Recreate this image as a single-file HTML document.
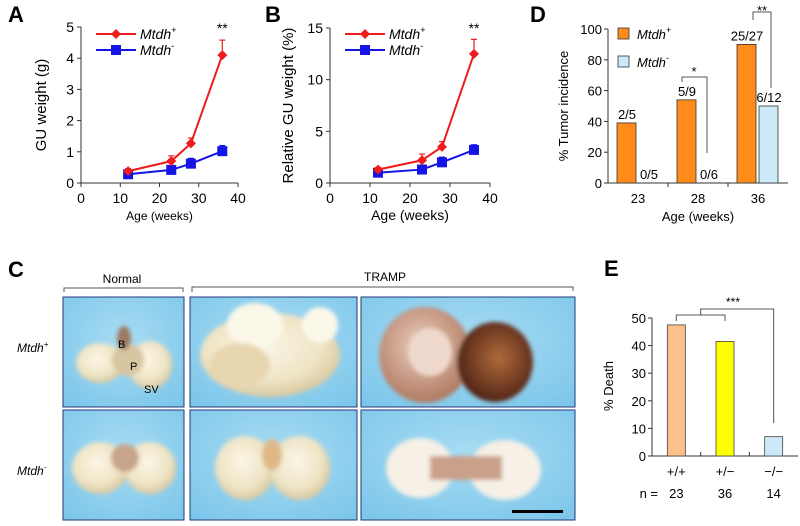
<!DOCTYPE html>
<html><head><meta charset="utf-8"><style>
body{margin:0;background:#fff;}
svg{display:block;font-family:"Liberation Sans",sans-serif;}
</style></head><body>
<svg id="fig" width="800" height="526" viewBox="0 0 800 526" xmlns="http://www.w3.org/2000/svg">
<defs>
<radialGradient id="bgblue" cx="50%" cy="40%" r="75%"><stop offset="0" stop-color="#a8dcf3"/><stop offset="1" stop-color="#7cc6ea"/></radialGradient>
<radialGradient id="cream" cx="45%" cy="40%" r="60%"><stop offset="0" stop-color="#fbf6e6"/><stop offset="0.7" stop-color="#eee3c4"/><stop offset="1" stop-color="#d9c9a0"/></radialGradient>
<radialGradient id="pink" cx="45%" cy="40%" r="60%"><stop offset="0" stop-color="#eccdbd"/><stop offset="1" stop-color="#b07a62"/></radialGradient>
<radialGradient id="dark" cx="55%" cy="45%" r="60%"><stop offset="0" stop-color="#b06a3a"/><stop offset="1" stop-color="#4a1f14"/></radialGradient>
<filter id="soft"><feGaussianBlur stdDeviation="2"/></filter>
</defs>
<g id="panelA"></g>
<g id="panelB"></g>
<g id="panelD"></g>
<g id="panelE"></g>
<g id="panelC">
 <text x="8" y="277" font-size="22" font-weight="bold">C</text>
 <text x="122" y="283" font-size="12" text-anchor="middle">Normal</text>
 <path d="M64 292 V288 H183 V292" fill="none" stroke="#555"/>
 <text x="385" y="281" font-size="12" text-anchor="middle">TRAMP</text>
 <path d="M192 292 V287 H573 V291" fill="none" stroke="#555"/>
 <text x="17" y="352" font-size="12" font-style="italic">Mtdh<tspan font-size="8" dy="-5">+</tspan></text>
 <text x="17" y="475" font-size="12" font-style="italic">Mtdh<tspan font-size="8" dy="-5">-</tspan></text>
 <g>
  <rect x="63" y="297" width="121" height="110" fill="url(#bgblue)" stroke="#223a7a"/>
  <g filter="url(#soft)"><ellipse cx="100" cy="363" rx="24" ry="20" fill="url(#cream)"/><ellipse cx="150" cy="365" rx="22" ry="24" fill="url(#cream)"/><ellipse cx="128" cy="360" rx="16" ry="16" fill="#d8c6a0"/><ellipse cx="124" cy="338" rx="7" ry="12" fill="#9b7a62"/></g>
  <text x="118" y="348" font-size="11">B</text>
  <text x="130" y="370" font-size="11">P</text>
  <text x="144" y="393" font-size="11">SV</text>
 </g>
 <g>
  <rect x="190" y="297" width="167" height="110" fill="url(#bgblue)" stroke="#223a7a"/>
  <g filter="url(#soft)"><ellipse cx="270" cy="355" rx="70" ry="42" fill="url(#cream)"/><ellipse cx="255" cy="325" rx="28" ry="22" fill="#fbf8ea"/><ellipse cx="320" cy="325" rx="18" ry="18" fill="#fbf8ea"/><ellipse cx="240" cy="365" rx="30" ry="22" fill="#e8d6b0"/></g>
 </g>
 <g>
  <rect x="361" y="297" width="214" height="110" fill="url(#bgblue)" stroke="#223a7a"/>
  <g filter="url(#soft)"><ellipse cx="425" cy="355" rx="46" ry="48" fill="url(#pink)"/><ellipse cx="430" cy="352" rx="22" ry="24" fill="#eed8cc"/><ellipse cx="495" cy="362" rx="38" ry="40" fill="url(#dark)"/></g>
 </g>
 <g>
  <rect x="63" y="410" width="121" height="110" fill="url(#bgblue)" stroke="#223a7a"/>
  <g filter="url(#soft)"><ellipse cx="100" cy="468" rx="28" ry="26" fill="url(#cream)"/><ellipse cx="150" cy="468" rx="26" ry="26" fill="url(#cream)"/><ellipse cx="125" cy="458" rx="14" ry="14" fill="#c6a58a"/></g>
 </g>
 <g>
  <rect x="190" y="410" width="167" height="110" fill="url(#bgblue)" stroke="#223a7a"/>
  <g filter="url(#soft)"><ellipse cx="245" cy="468" rx="30" ry="32" fill="url(#cream)"/><ellipse cx="300" cy="468" rx="30" ry="32" fill="url(#cream)"/><ellipse cx="272" cy="455" rx="10" ry="16" fill="#e0b888"/></g>
 </g>
 <g>
  <rect x="361" y="410" width="214" height="110" fill="url(#bgblue)" stroke="#223a7a"/>
  <g filter="url(#soft)"><ellipse cx="420" cy="468" rx="34" ry="30" fill="#f6f0e6"/><ellipse cx="505" cy="470" rx="36" ry="30" fill="#f6f0e6"/><rect x="430" y="456" width="72" height="24" fill="#c9a08a"/></g>
  <rect x="512" y="510" width="51" height="3" fill="#000"/>
 </g>
</g>
</svg>
<script>
const NS="http://www.w3.org/2000/svg";
// ---- data ----
const weeksA=[12,23,28,36];
const gPlusA=[0.38,0.7,1.27,4.1];
const gPlusErrA=[0.08,0.17,0.17,0.48];
const gMinusA=[0.28,0.42,0.62,1.02];
const gMinusErrA=[0.05,0.06,0.17,0.18];
const ticksAy=[0,1,2,3,4,5];
const ticksAx=[0,10,20,30,40];
const weeksB=[12,23,28,36];
const rPlusB=[1.3,2.2,3.5,12.5];
const rPlusErrB=[0.2,0.6,0.5,1.4];
const rMinusB=[1.0,1.3,2.0,3.2];
const rMinusErrB=[0.2,0.2,0.5,0.5];
const ticksBy=[0,5,10,15];
const ticksBx=[0,10,20,30,40];
const ageD=["23","28","36"];
const incPlusD=[39,54,90];
const incMinusD=[0,0,50];
const fracPlusD=["2/5","5/9","25/27"];
const fracMinusD=["0/5","0/6","6/12"];
const ticksDy=[0,20,40,60,80,100];
const genoE=["+/+","+/\u2212","\u2212/\u2212"];
const deathE=[47.5,41.5,7];
const nE=["23","36","14"];
const colorsE=["#fcc08a","#ffff00","#cce9f7"];
const ticksEy=[0,10,20,30,40,50];

function el(parent,tag,attrs,text){const e=document.createElementNS(NS,tag);for(const k in attrs)e.setAttribute(k,attrs[k]);if(text!==undefined)e.textContent=text;parent.appendChild(e);return e;}

function lineChart(g,cfg){
 const sx=v=>cfg.x0+(v-cfg.xmin)/(cfg.xmax-cfg.xmin)*(cfg.x1-cfg.x0);
 const sy=v=>cfg.y0-(v-cfg.ymin)/(cfg.ymax-cfg.ymin)*(cfg.y0-cfg.y1);
 let t=el(g,'text',{x:cfg.labx,y:22,'font-size':22,'font-weight':'bold'},cfg.label);
 
 let a=el(g,'path',{d:`M${cfg.x0} ${cfg.y1} V${cfg.y0} H${cfg.x1}`,fill:'none',stroke:'#333','stroke-width':1});
 
 cfg.yt.forEach(v=>{el(g,'line',{x1:cfg.x0-4,x2:cfg.x0,y1:sy(v),y2:sy(v),stroke:'#333'});
  const l=el(g,'text',{x:cfg.x0-7,y:sy(v)+5,'font-size':14,'text-anchor':'end'},v);
  });
 cfg.xt.forEach(v=>{el(g,'line',{x1:sx(v),x2:sx(v),y1:cfg.y0,y2:cfg.y0+4,stroke:'#333'});
  const l=el(g,'text',{x:sx(v),y:cfg.y0+20,'font-size':14,'text-anchor':'middle'},v);
  });
 const xt=el(g,'text',{x:(cfg.x0+cfg.x1)/2,y:cfg.y0+37,'font-size':cfg.xtfs,'text-anchor':'middle'},'Age (weeks)');
 
 const yc=(cfg.y0+cfg.y1)/2;
 const yt=el(g,'text',{x:cfg.ytx,y:yc,'font-size':15,'text-anchor':'middle',transform:`rotate(-90 ${cfg.ytx} ${yc})`},cfg.ytitle);
 
 const series=[[cfg.minus,cfg.minusErr,'#1414e6','sq','series-mtdh-minus'],[cfg.plus,cfg.plusErr,'#ee1c1c','di','series-mtdh-plus']];
 series.forEach(([vals,errs,col,shape,name])=>{
  const sg=el(g,'g',{});
  vals.forEach((v,i)=>{const x=sx(cfg.xs[i]);el(sg,'line',{x1:x,x2:x,y1:sy(v),y2:sy(v+errs[i]),stroke:col,'stroke-width':1.2});el(sg,'line',{x1:x-3,x2:x+3,y1:sy(v+errs[i]),y2:sy(v+errs[i]),stroke:col,'stroke-width':1.2});});
  el(sg,'polyline',{points:vals.map((v,i)=>sx(cfg.xs[i])+','+sy(v)).join(' '),fill:'none',stroke:col,'stroke-width':2});
  vals.forEach((v,i)=>{const x=sx(cfg.xs[i]),y=sy(v);let m;
   if(shape==='sq')m=el(sg,'rect',{x:x-5,y:y-5,width:10,height:10,fill:col});
   else m=el(sg,'path',{d:`M${x} ${y-5} L${x+5} ${y} L${x} ${y+5} L${x-5} ${y}Z`,fill:col});
   });
 });
 const lx=cfg.x0+15;
 [['#ee1c1c','di','+',34],['#1414e6','sq','-',50]].forEach(([col,shape,sup,y])=>{
  const lg=el(g,'g',{});
  el(lg,'line',{x1:lx,x2:lx+40,y1:y,y2:y,stroke:col,'stroke-width':2});
  if(shape==='sq')el(lg,'rect',{x:lx+15,y:y-5,width:10,height:10,fill:col});else el(lg,'path',{d:`M${lx+20} ${y-5}L${lx+25} ${y}L${lx+20} ${y+5}L${lx+15} ${y}Z`,fill:col});
  const tx=el(lg,'text',{x:lx+44,y:y+5,'font-size':14,'font-style':'italic'},'Mtdh');el(tx,'tspan',{'font-size':9,dy:-6},sup);
 });
 const st=el(g,'text',{x:sx(cfg.xs[3]),y:33,'font-size':14,'text-anchor':'middle'},'**');
 
}
lineChart(document.getElementById('panelA'),{label:'A',labx:8,x0:81,x1:238,y0:183,y1:27,xmin:0,xmax:40,ymin:0,ymax:5,yt:ticksAy,xt:ticksAx,xs:weeksA,plus:gPlusA,plusErr:gPlusErrA,minus:gMinusA,minusErr:gMinusErrA,ytitle:'GU weight (g)',ytx:46,xtfs:12});
lineChart(document.getElementById('panelB'),{label:'B',labx:265,x0:330,x1:490,y0:183,y1:28,xmin:0,xmax:40,ymin:0,ymax:15,yt:ticksBy,xt:ticksBx,xs:weeksB,plus:rPlusB,plusErr:rPlusErrB,minus:rMinusB,minusErr:rMinusErrB,ytitle:'Relative GU weight (%)',ytx:293,xtfs:14});

// Panel D
(function(){
 const g=document.getElementById('panelD');
 const x0=608,x1=788,y0=183,y1=29;
 const sy=v=>y0-v/100*(y0-y1);
 const gw=(x1-x0)/ageD.length;const cx=i=>x0+gw*(i+0.5);
 let t=el(g,'text',{x:530,y:22,'font-size':22,'font-weight':'bold'},'D');
 el(g,'path',{d:`M${x0} ${y1} V${y0} H${x1}`,fill:'none',stroke:'#333'});
 ticksDy.forEach(v=>{el(g,'line',{x1:x0-4,x2:x0,y1:sy(v),y2:sy(v),stroke:'#333'});const l=el(g,'text',{x:x0-6,y:sy(v)+5,'font-size':13,'text-anchor':'end'},v);});
 for(let i=1;i<ageD.length;i++)el(g,'line',{x1:x0+gw*i,x2:x0+gw*i,y1:y0,y2:y0+4,stroke:'#333'});
 ageD.forEach((a,i)=>{const c=cx(i);
  const b1=el(g,'rect',{x:c-21,y:sy(incPlusD[i]),width:19,height:y0-sy(incPlusD[i]),fill:'#ff8c1a',stroke:'#333','stroke-width':0.8});
  
  if(incMinusD[i]>0){const b2=el(g,'rect',{x:c+1,y:sy(incMinusD[i]),width:19,height:y0-sy(incMinusD[i]),fill:'#cce9f7',stroke:'#333','stroke-width':0.8});}
  const f1=el(g,'text',{x:c-11,y:sy(incPlusD[i])-4,'font-size':13,'text-anchor':'middle'},fracPlusD[i]);
  const f2=el(g,'text',{x:c+11,y:sy(incMinusD[i])-4,'font-size':13,'text-anchor':'middle'},fracMinusD[i]);
  const xl=el(g,'text',{x:c,y:y0+20,'font-size':13,'text-anchor':'middle'},a);
 });
 const xt=el(g,'text',{x:698,y:221,'font-size':13,'text-anchor':'middle'},'Age (weeks)');
 const yt=el(g,'text',{x:568,y:106,'font-size':13,'text-anchor':'middle',transform:'rotate(-90 568 106)'},'% Tumor incidence');
 [['#ff8c1a','+',34],['#cce9f7','-',62]].forEach(([c,s,y])=>{const lg=el(g,'g',{});
  el(lg,'rect',{x:618,y:y-6,width:11,height:11,fill:c,stroke:'#333','stroke-width':0.8});const tx=el(lg,'text',{x:637,y:y+5,'font-size':13,'font-style':'italic'},'Mtdh');el(tx,'tspan',{'font-size':9,dy:-6},s);});
 const br=el(g,'path',{d:'M682 82 V77 H707 V153 M753 20 V12 H771 V88',fill:'none',stroke:'#555'});
 el(g,'text',{x:694,y:76,'font-size':13,'text-anchor':'middle'},'*');
 el(g,'text',{x:762,y:15,'font-size':13,'text-anchor':'middle'},'**');
})();

// Panel E
(function(){
 const g=document.getElementById('panelE');
 const x0=652,x1=798,y0=456,y1=318;
 const sy=v=>y0-v/50*(y0-y1);
 const gw=(x1-x0)/genoE.length;const cx=i=>x0+gw*(i+0.5);
 let t=el(g,'text',{x:604,y:276,'font-size':22,'font-weight':'bold'},'E');
 el(g,'path',{d:`M${x0} ${y1} V${y0} H${x1}`,fill:'none',stroke:'#333'});
 ticksEy.forEach(v=>{el(g,'line',{x1:x0-4,x2:x0,y1:sy(v),y2:sy(v),stroke:'#333'});const l=el(g,'text',{x:x0-6,y:sy(v)+5,'font-size':13,'text-anchor':'end'},v);});
 for(let i=1;i<genoE.length;i++)el(g,'line',{x1:x0+gw*i,x2:x0+gw*i,y1:y0,y2:y0-4,stroke:'#333'});
 genoE.forEach((gn,i)=>{const c=cx(i);
  const b=el(g,'rect',{x:c-9,y:sy(deathE[i]),width:18,height:y0-sy(deathE[i]),fill:colorsE[i],stroke:'#444','stroke-width':0.8});
  
  const l=el(g,'text',{x:c,y:476,'font-size':13,'text-anchor':'middle'},gn);
  const n=el(g,'text',{x:c,y:498,'font-size':13,'text-anchor':'middle'},nE[i]);
 });
 const nl=el(g,'text',{x:658,y:498,'font-size':13,'text-anchor':'end'},'n =');
 
 const yt=el(g,'text',{x:613,y:386,'font-size':13,'text-anchor':'middle',transform:'rotate(-90 613 386)'},'% Death');
 const br=el(g,'path',{d:`M${cx(0)} 321 V315 H${cx(1)} V321 M${(cx(0)+cx(1))/2} 315 V309 H${cx(2)} V423`,fill:'none',stroke:'#555'});
 el(g,'text',{x:733,y:306,'font-size':12,'text-anchor':'middle'},'***');
})();
</script>
</body></html>
